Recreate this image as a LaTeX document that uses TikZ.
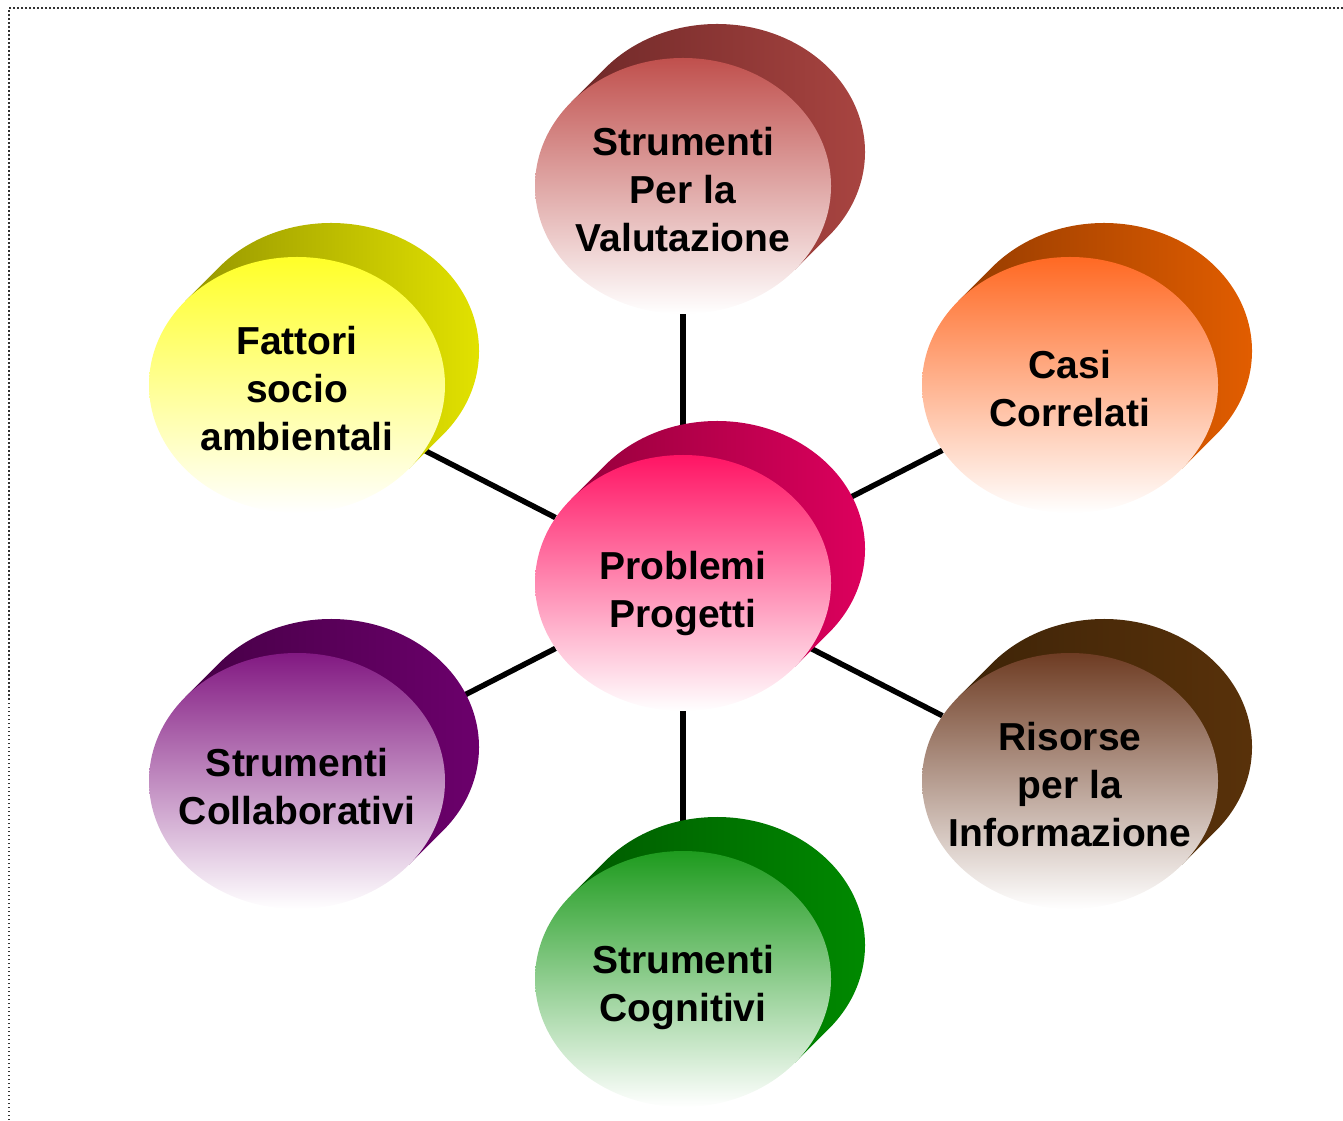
\documentclass[tikz,border=0pt]{standalone}
\usepackage{fontspec}
\setmainfont{Liberation Sans}
\usetikzlibrary{shapes.geometric,calc,backgrounds}

% colours of the discs (front, back dark, back light)
\definecolor{valutF}{RGB}{192,80,77}
\definecolor{valutD}{RGB}{110,40,40}
\definecolor{valutL}{RGB}{172,70,66}
\definecolor{problF}{RGB}{255,20,100}
\definecolor{problD}{RGB}{150,0,60}
\definecolor{problL}{RGB}{225,0,95}
\definecolor{fattoriF}{RGB}{255,255,40}
\definecolor{fattoriD}{RGB}{150,150,0}
\definecolor{fattoriL}{RGB}{230,230,0}
\definecolor{casiF}{RGB}{255,105,35}
\definecolor{casiD}{RGB}{150,60,0}
\definecolor{casiL}{RGB}{230,95,0}
\definecolor{collabF}{RGB}{130,25,130}
\definecolor{collabD}{RGB}{70,0,70}
\definecolor{collabL}{RGB}{110,0,110}
\definecolor{risorseF}{RGB}{110,60,35}
\definecolor{risorseD}{RGB}{62,36,8}
\definecolor{risorseL}{RGB}{90,50,10}
\definecolor{cognitF}{RGB}{30,155,30}
\definecolor{cognitD}{RGB}{0,90,0}
\definecolor{cognitL}{RGB}{0,140,0}

% back part of a disc: centre, dark colour, light colour
\newcommand{\discback}[3]{%
  \shade[left color=#2, right color=#3]
    ($#1+(-41:148pt and 128pt)$) -- ++(34pt,34pt)
    arc[start angle=-41, end angle=139, x radius=148pt, y radius=128pt]
    -- ++(-34pt,-34pt) -- cycle;
}

\begin{document}
\begin{tikzpicture}[
    disc/.style={ellipse, minimum width=296pt, minimum height=256pt, inner sep=0pt, bottom color=white},
    disctext/.style={align=center, yshift=-4pt, font=\bfseries\fontsize{39}{48}\selectfont},
    spoke/.style={line width=5.5pt, black},
    border/.style={line width=1.5pt, gray!40!black, dash pattern=on 1.5pt off 2.5pt}
  ]
    \useasboundingbox (0pt,0pt) rectangle (1343pt,1120pt);

    % Frame (only top and left are visible)
    \draw[border] (9pt,0pt) -- (9pt,1112pt) -- (1343pt,1112pt);

    % Back parts of the discs
    \discback{(683pt,537pt)}{problD}{problL}
    \discback{(683pt,934pt)}{valutD}{valutL}
    \discback{(297pt,735pt)}{fattoriD}{fattoriL}
    \discback{(1070pt,735pt)}{casiD}{casiL}
    \discback{(297pt,339pt)}{collabD}{collabL}
    \discback{(1070pt,339pt)}{risorseD}{risorseL}
    \discback{(683pt,141pt)}{cognitD}{cognitL}

    % Front faces of the discs
    \node[disc, top color=problF] (probl) at (683pt,537pt) {};
    \node[disc, top color=valutF] (valut) at (683pt,934pt) {};
    \node[disc, top color=fattoriF] (fattori) at (297pt,735pt) {};
    \node[disc, top color=casiF] (casi) at (1070pt,735pt) {};
    \node[disc, top color=collabF] (collab) at (297pt,339pt) {};
    \node[disc, top color=risorseF] (risorse) at (1070pt,339pt) {};
    \node[disc, top color=cognitF] (cognit) at (683pt,141pt) {};

    % Labels
    \node[disctext, yshift=-7pt] (probl-t) at (probl) {Problemi\\Progetti};
    \node[disctext] (valut-t) at (valut) {Strumenti\\Per la\\Valutazione};
    \node[disctext] (fattori-t) at (fattori) {Fattori\\socio\\ambientali};
    \node[disctext] (casi-t) at (casi) {Casi\\Correlati};
    \node[disctext, yshift=-2pt] (collab-t) at (collab) {Strumenti\\Collaborativi};
    \node[disctext] (risorse-t) at (risorse) {Risorse\\per la\\Informazione};
    \node[disctext, yshift=-4pt] (cognit-t) at (cognit) {Strumenti\\Cognitivi};

    % Spokes behind the discs
    \begin{scope}[on background layer]
        \draw[spoke] (probl) -- (valut);
        \draw[spoke] (probl) -- (fattori);
        \draw[spoke] (probl) -- (casi);
        \draw[spoke] (probl) -- (collab);
        \draw[spoke] (probl) -- (risorse);
        \draw[spoke] (probl) -- (cognit);
    \end{scope}

\end{tikzpicture}
\end{document}
